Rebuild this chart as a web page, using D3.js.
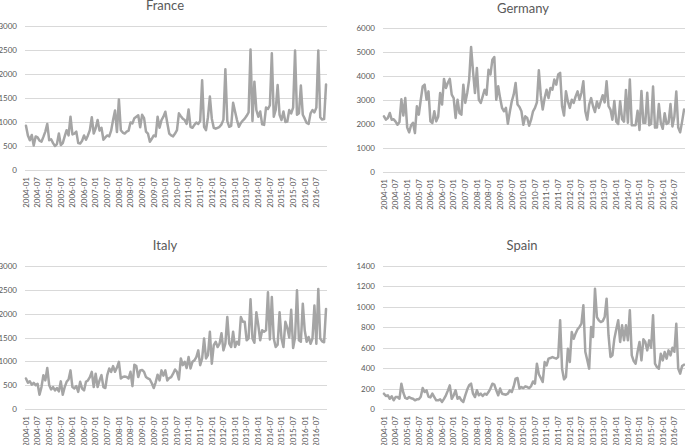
<!DOCTYPE html>
<html><head><meta charset="utf-8">
<script src="https://cdn.jsdelivr.net/npm/d3@7"></script>
<style>html,body{margin:0;padding:0;background:#fff;overflow:hidden}svg{display:block}</style>
</head><body><svg id="c" width="685" height="445"></svg>
<script>
const years = [2004,2005,2006,2007,2008,2009,2010,2011,2012,2013,2014,2015,2016];
const monthCodes = ["01","02","03","04","05","06","07","08","09","10","11","12"];
const categories = years.flatMap(y => monthCodes.map(m => `${y}-${m}`));
const tickLabels = ["2004-01","2004-07","2005-01","2005-07","2006-01","2006-07","2007-01","2007-07",
  "2008-01","2008-07","2009-01","2009-07","2010-01","2010-07","2011-01","2011-07","2012-01","2012-07",
  "2013-01","2013-07","2014-01","2014-07","2015-01","2015-07","2016-01","2016-07"];

const france = [920,720,620,730,510,700,680,610,590,690,800,960,
 620,640,560,500,540,760,520,560,700,830,720,1110,
 740,760,800,560,550,610,720,630,720,830,1100,760,
 870,1040,820,880,630,680,720,700,820,1040,1240,790,
 1470,830,780,760,800,820,990,970,1080,1110,1140,890,
 1150,1080,800,760,590,650,720,700,1110,880,1040,1110,
 1215,980,760,720,700,760,830,1180,1120,1070,1040,960,
 1260,900,880,940,990,960,1020,1870,900,830,1100,1530,
 1070,880,860,880,900,950,1050,2100,1020,900,920,1400,
 1220,1040,900,980,1030,1070,1130,1200,2510,1020,1840,1250,
 1110,1220,950,940,1300,1270,1350,2430,1110,1250,1770,1150,
 1040,1220,1000,1010,1250,1180,1300,2490,1150,1180,1760,1150,
 1070,980,960,1180,1250,1200,1300,2490,1100,1050,1060,1780];

const germany = [2320,2180,2250,2460,2180,2200,2100,1970,2080,3030,2350,3080,
 1850,1650,1950,2050,1620,2740,2390,3000,3570,3640,3010,3360,
 2110,2040,2530,2110,2300,3290,2810,3880,3500,3720,3880,3220,
 3080,2250,3010,2460,2390,3640,2880,3290,3850,5210,4200,3290,
 4330,3010,2880,3150,3430,3220,4260,4060,4680,4790,3010,3570,
 3080,2670,2530,2670,2010,2500,2940,3220,3710,2810,2710,2530,
 1970,2320,2250,1930,2180,2530,2670,2900,4240,3200,2600,3080,
 3430,3080,3500,3430,3850,3640,4060,4130,2740,2350,3360,2940,
 2670,3010,2880,3150,3360,3010,3300,3780,2530,2180,2810,3080,
 2740,2500,2940,2670,2940,3200,2900,3780,2740,2600,2180,2960,
 2100,2000,2950,2200,2100,3420,2050,3850,1950,1950,1950,2550,
 1750,3380,2050,2050,3300,1950,2000,3560,1850,1850,2830,2050,
 1800,2450,2000,2050,2830,1900,2300,3350,1850,1650,2100,2600];

const italy = [640,550,580,510,550,500,530,300,460,710,600,860,
 500,410,460,390,440,370,580,300,460,570,620,810,
 460,430,480,360,570,430,390,570,600,670,780,460,
 740,460,600,710,460,440,710,850,780,900,780,870,
 990,640,670,680,670,640,780,480,930,900,670,810,
 820,780,670,640,620,540,440,560,720,600,810,700,
 810,600,650,670,740,830,780,620,1060,920,990,860,
 1090,850,990,1020,1090,1230,920,1060,1480,1060,1130,1620,
 950,1340,1410,1300,1370,1590,1230,1370,1930,1370,1300,1620,
 1300,1410,1350,1930,1830,1830,1440,1480,2300,1480,1390,2030,
 1760,1440,1650,1620,1650,2450,1460,2350,1480,1300,1350,2030,
 1480,1300,1830,1700,1500,2080,1280,1500,2490,1440,1410,2210,
 1650,1410,1510,1370,1480,2170,1370,2520,1480,1420,1400,2100];

const spain = [150,127,134,100,124,85,117,117,100,248,160,108,
 100,117,105,100,85,95,95,120,205,166,183,120,
 114,150,117,85,85,95,69,100,134,180,232,100,
 134,183,100,117,85,69,134,190,232,248,150,117,
 183,134,150,127,150,140,166,200,248,238,183,134,
 200,150,145,140,150,183,166,220,297,303,200,215,
 205,222,215,205,225,270,248,444,340,303,264,460,
 427,493,499,509,500,493,509,868,395,290,313,590,
 460,754,688,740,780,803,835,1015,560,480,395,803,
 705,1178,900,868,852,860,900,1080,720,509,525,688,
 780,868,656,819,672,819,672,966,525,470,444,560,
 656,476,682,656,574,672,600,917,444,410,395,541,
 476,558,493,574,525,600,560,835,395,346,420,434];

const ticks3000 = [0,500,1000,1500,2000,2500,3000];
const ticks6000 = [0,1000,2000,3000,4000,5000,6000];
const ticks1400 = [0,200,400,600,800,1000,1200,1400];

const panels = [
  {title:"France",  values:france,  ticks:ticks3000, x0:25,  x1:327, yTop:26,  yBot:170, tx:165, ty:10},
  {title:"Germany", values:germany, ticks:ticks6000, x0:383, x1:685, yTop:28,  yBot:172, tx:523, ty:13},
  {title:"Italy",   values:italy,   ticks:ticks3000, x0:25,  x1:327, yTop:266, yBot:409, tx:165, ty:250},
  {title:"Spain",   values:spain,   ticks:ticks1400, x0:383, x1:685, yTop:266, yBot:409, tx:522, ty:250}
];

const svg = d3.select("#c");
const FONT = "Lato, 'Open Sans', sans-serif";
const TXT = "#595959";

panels.forEach(p => {
  const g = svg.append("g");
  const x = d3.scaleBand().domain(categories).range([p.x0, p.x1]);
  const y = d3.scaleLinear().domain([0, d3.max(p.ticks)]).range([p.yBot, p.yTop]);

  g.append("g").selectAll("line").data(p.ticks).join("line")
    .attr("x1", p.x0).attr("x2", p.x1)
    .attr("y1", d => Math.round(y(d)) + 0.5).attr("y2", d => Math.round(y(d)) + 0.5)
    .attr("stroke", "#d9d9d9").attr("stroke-width", 1);

  const ya = g.append("g").attr("transform", `translate(${p.x0},0)`)
    .call(d3.axisLeft(y).tickValues(p.ticks).tickSize(0).tickPadding(8).tickFormat(d3.format("d")));
  ya.select(".domain").remove();
  ya.selectAll("text").attr("fill", TXT).style("font-family", FONT).style("font-size", "8px");

  const xa = g.append("g").attr("transform", `translate(0,${p.yBot})`)
    .call(d3.axisBottom(x).tickValues(tickLabels).tickSize(0));
  xa.select(".domain").remove();
  xa.selectAll("text")
    .attr("x", -7).attr("y", 0).attr("dy", "0.35em")
    .attr("transform", "rotate(-90)")
    .style("text-anchor", "end")
    .attr("fill", TXT).style("font-family", FONT).style("font-size", "8px");

  const line = d3.line()
    .x((d, i) => x(categories[i]) + x.bandwidth() / 2)
    .y(d => y(d));
  g.append("path").datum(p.values)
    .attr("d", line).attr("fill", "none")
    .attr("stroke", "#a5a5a5").attr("stroke-width", 2.5)
    .attr("stroke-linejoin", "round").attr("stroke-linecap", "round");

  g.append("text").attr("x", p.tx).attr("y", p.ty)
    .attr("text-anchor", "middle").attr("fill", TXT)
    .style("font-family", FONT).style("font-size", "13px").text(p.title);
});
</script></body></html>
